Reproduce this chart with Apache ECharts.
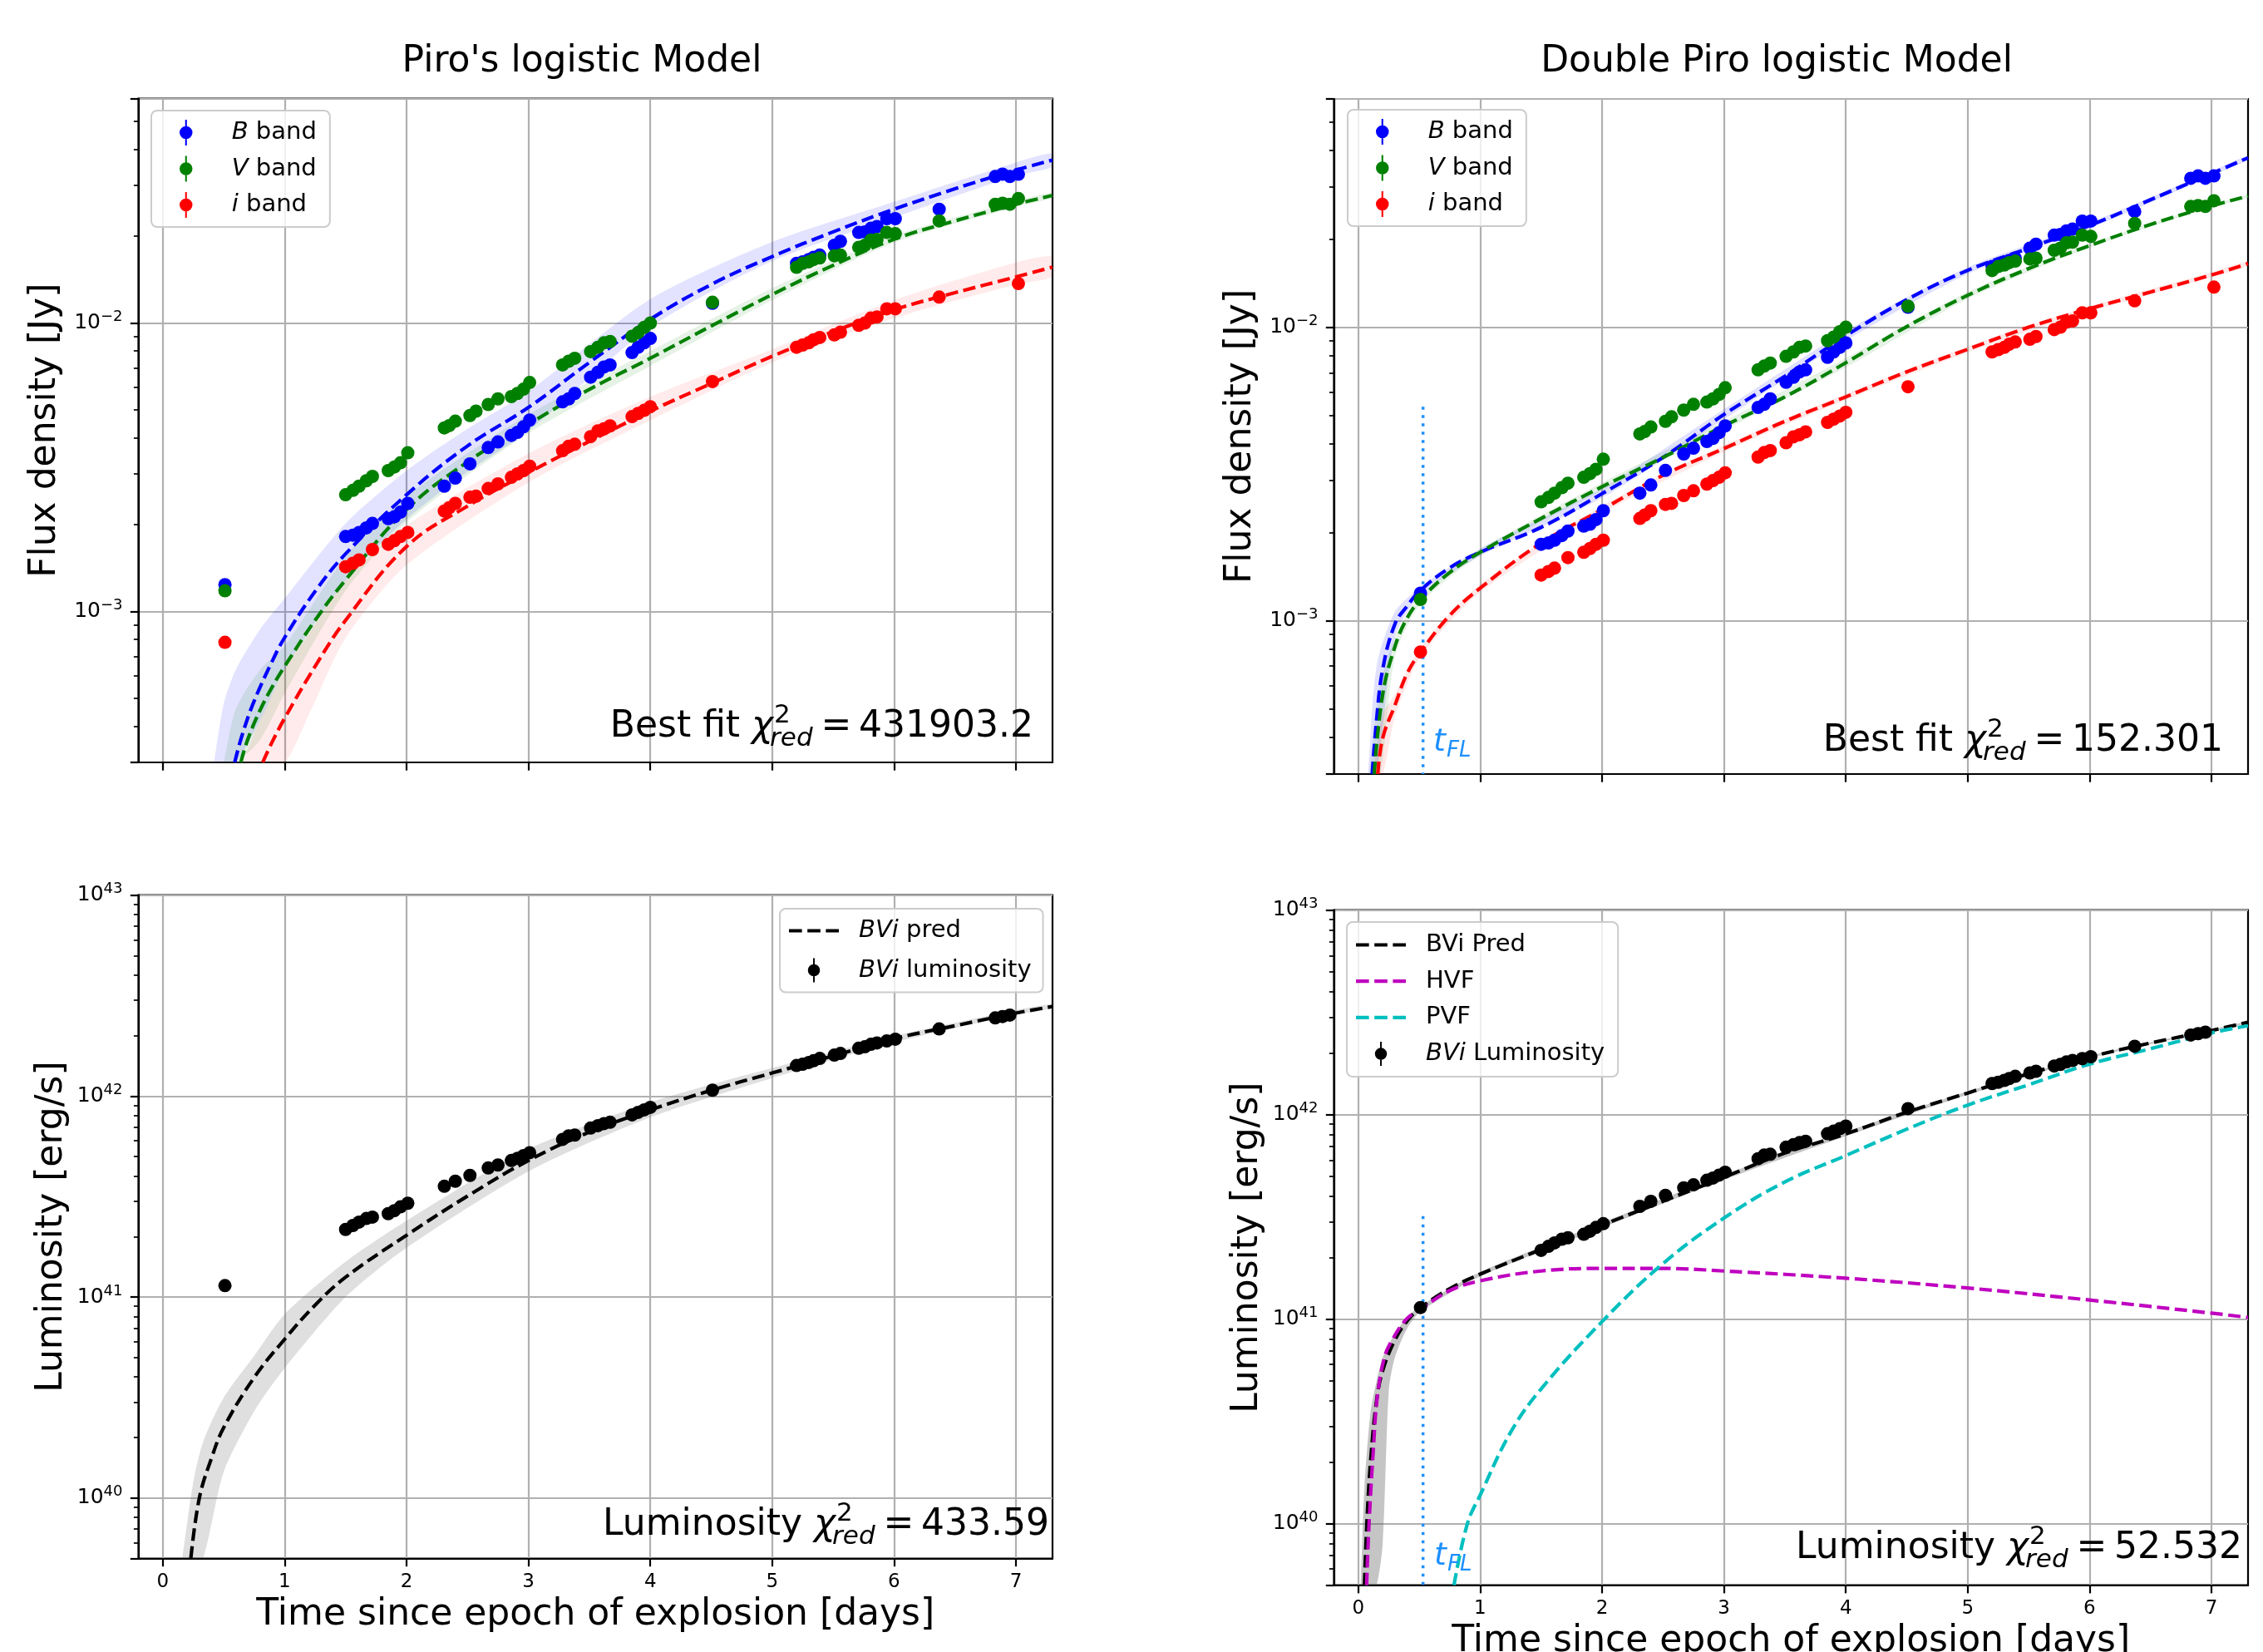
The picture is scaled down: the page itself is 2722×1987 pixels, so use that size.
<!DOCTYPE html>
<html><head><meta charset="utf-8">
<script src="https://cdn.jsdelivr.net/npm/echarts@6/dist/echarts.min.js"></script>
<style>html,body{margin:0;padding:0;background:#fff}#c{width:2722px;height:1987px}</style>
</head><body><div id="c"></div>
<script>
// ---------------- DATA ----------------
const xTickVals = [0, 1, 2, 3, 4, 5, 6, 7];
const fluxMinorTicks = [4e-4, 5e-4, 6e-4, 7e-4, 8e-4, 9e-4, 2e-3, 3e-3, 4e-3, 5e-3, 6e-3, 7e-3, 8e-3, 9e-3, 2e-2, 3e-2, 4e-2, 5e-2];
const lumMinorTicks = [6e39, 7e39, 8e39, 9e39, 2e40, 3e40, 4e40, 5e40, 6e40, 7e40, 8e40, 9e40, 2e41, 3e41, 4e41, 5e41, 6e41, 7e41, 8e41, 9e41, 2e42, 3e42, 4e42, 5e42, 6e42, 7e42, 8e42, 9e42];

// observation epochs (days since explosion)
const obsT = [0.51, 1.50, 1.56, 1.61, 1.67, 1.72, 1.85, 1.90, 1.95, 2.01, 2.31, 2.35, 2.40, 2.52, 2.57, 2.67, 2.75, 2.86, 2.91, 2.96, 3.01, 3.28, 3.33, 3.38, 3.51, 3.57, 3.62, 3.67, 3.85, 3.90, 3.95, 4.00, 4.51, 5.20, 5.25, 5.30, 5.34, 5.39, 5.51, 5.56, 5.71, 5.76, 5.81, 5.86, 5.94, 6.01, 6.37, 6.83, 6.89, 6.95, 7.02];
// flux densities [Jy]
const fluxB = [1.24e-3, 1.82e-3, 1.84e-3, 1.88e-3, 1.95e-3, 2.02e-3, 2.10e-3, 2.13e-3, 2.21e-3, 2.37e-3, 2.72e-3, null, 2.90e-3, 3.25e-3, null, 3.70e-3, 3.87e-3, 4.08e-3, 4.18e-3, 4.37e-3, 4.61e-3, 5.33e-3, 5.46e-3, 5.70e-3, 6.49e-3, 6.75e-3, 7.04e-3, 7.16e-3, 7.90e-3, 8.24e-3, 8.54e-3, 8.84e-3, 1.17e-2, 1.61e-2, 1.63e-2, 1.66e-2, 1.69e-2, 1.72e-2, 1.86e-2, 1.92e-2, 2.06e-2, 2.07e-2, 2.13e-2, 2.16e-2, 2.30e-2, 2.30e-2, 2.48e-2, 3.22e-2, 3.28e-2, 3.22e-2, 3.28e-2];
const fluxV = [1.18e-3, 2.54e-3, 2.63e-3, 2.72e-3, 2.84e-3, 2.94e-3, 3.08e-3, 3.17e-3, 3.28e-3, 3.55e-3, 4.33e-3, 4.41e-3, 4.57e-3, 4.78e-3, 4.95e-3, 5.22e-3, 5.46e-3, 5.56e-3, 5.70e-3, 5.90e-3, 6.22e-3, 7.16e-3, 7.37e-3, 7.55e-3, 7.96e-3, 8.24e-3, 8.54e-3, 8.63e-3, 9.0e-3, 9.26e-3, 9.66e-3, 1.0e-2, 1.18e-2, 1.56e-2, 1.61e-2, 1.63e-2, 1.66e-2, 1.68e-2, 1.71e-2, 1.72e-2, 1.83e-2, 1.86e-2, 1.94e-2, 1.95e-2, 2.06e-2, 2.04e-2, 2.26e-2, 2.58e-2, 2.60e-2, 2.58e-2, 2.70e-2];
const fluxI = [7.82e-4, 1.43e-3, 1.47e-3, 1.51e-3, null, 1.64e-3, 1.71e-3, 1.76e-3, 1.82e-3, 1.88e-3, 2.23e-3, 2.29e-3, 2.37e-3, 2.49e-3, 2.51e-3, 2.67e-3, 2.77e-3, 2.92e-3, 3.0e-3, 3.08e-3, 3.19e-3, 3.61e-3, 3.74e-3, 3.80e-3, 4.04e-3, 4.23e-3, 4.30e-3, 4.40e-3, 4.74e-3, 4.86e-3, 4.98e-3, 5.13e-3, 6.27e-3, 8.24e-3, 8.39e-3, 8.54e-3, 8.75e-3, 8.91e-3, 9.1e-3, 9.30e-3, 9.82e-3, 1.0e-2, 1.04e-2, 1.05e-2, 1.12e-2, 1.12e-2, 1.23e-2, null, null, null, 1.37e-2];
// BVi luminosity [erg/s]
const lumBVi = [1.14e41, 2.17e41, 2.27e41, 2.36e41, 2.46e41, 2.50e41, 2.60e41, 2.69e41, 2.81e41, 2.93e41, 3.56e41, null, 3.77e41, 4.03e41, null, 4.39e41, 4.54e41, 4.78e41, 4.9e41, 5.06e41, 5.23e41, 6.09e41, 6.34e41, 6.4e41, 6.93e41, 7.13e41, 7.3e41, 7.41e41, 8.07e41, 8.3e41, 8.54e41, 8.79e41, 1.07e42, 1.42e42, 1.44e42, 1.47e42, 1.50e42, 1.54e42, 1.60e42, 1.63e42, 1.73e42, 1.76e42, 1.81e42, 1.84e42, 1.88e42, 1.92e42, 2.16e42, 2.45e42, 2.49e42, 2.53e42, null];

// Piro logistic model: best fit curves [t, flux]
const piroB = [[0.59,3.0e-4],[0.65,3.72e-4],[0.75,4.9e-4],[0.9,6.76e-4],[1.0,8.13e-4],[1.25,1.175e-3],[1.5,1.585e-3],[2.0,2.54e-3],[2.5,3.75e-3],[3.0,5.1e-3],[3.5,7.3e-3],[4.0,1.03e-2],[4.5,1.36e-2],[5.0,1.70e-2],[5.5,2.07e-2],[6.0,2.48e-2],[6.5,2.92e-2],[7.0,3.39e-2],[7.3,3.67e-2]];
const piroV = [[0.64,3.0e-4],[0.7,3.63e-4],[0.8,4.57e-4],[0.9,5.5e-4],[1.0,6.46e-4],[1.25,9.33e-4],[1.5,1.288e-3],[2.0,2.26e-3],[2.5,3.30e-3],[3.0,4.46e-3],[3.5,5.89e-3],[4.0,7.55e-3],[4.5,9.77e-3],[5.0,1.256e-2],[5.5,1.585e-2],[6.0,1.95e-2],[6.5,2.26e-2],[7.0,2.58e-2],[7.3,2.77e-2]];
const piroI = [[0.82,3.0e-4],[0.9,3.55e-4],[1.0,4.27e-4],[1.25,6.46e-4],[1.5,9.33e-4],[2.0,1.68e-3],[2.5,2.32e-3],[3.0,3.03e-3],[3.5,3.89e-3],[4.0,4.95e-3],[4.5,6.17e-3],[5.0,7.67e-3],[5.5,9.33e-3],[6.0,1.112e-2],[6.5,1.274e-2],[7.0,1.445e-2],[7.3,1.563e-2]];
// posterior spread [t, low, high]
const piroBandB = [[0.42,3e-4,3e-4],[0.5,3e-4,4.8e-4],[0.6,3e-4,6.3e-4],[0.8,4.2e-4,8.7e-4],[1.0,6.3e-4,1.11e-3],[1.5,1.28e-3,2.02e-3],[2.0,2.09e-3,3.08e-3],[2.5,3.05e-3,4.3e-3],[3.0,4.23e-3,5.79e-3],[4.0,9.66e-3,1.21e-2],[5.0,1.64e-2,1.91e-2],[6.0,2.32e-2,2.63e-2],[7.0,3.24e-2,3.6e-2],[7.3,3.48e-2,3.87e-2]];
const piroBandV = [[0.5,3e-4,3e-4],[0.6,3e-4,4.6e-4],[0.8,3.6e-4,6.3e-4],[1.0,5.2e-4,7.6e-4],[1.5,1.18e-3,1.55e-3],[2.0,2.04e-3,2.51e-3],[3.0,4.15e-3,4.82e-3],[4.0,7.1e-3,8.0e-3],[5.0,1.2e-2,1.32e-2],[6.0,1.9e-2,2.01e-2],[7.0,2.53e-2,2.65e-2],[7.3,2.71e-2,2.83e-2]];
const piroBandI = [[0.65,3e-4,3e-4],[0.8,3e-4,4.2e-4],[1.0,3e-4,6.3e-4],[1.2,4.4e-4,8.4e-4],[1.5,8.1e-4,1.28e-3],[2.0,1.45e-3,1.99e-3],[3.0,2.8e-3,3.53e-3],[4.0,4.6e-3,5.55e-3],[5.0,7.3e-3,8.1e-3],[6.0,1.04e-2,1.2e-2],[7.0,1.36e-2,1.62e-2],[7.3,1.45e-2,1.7e-2]];

// Double Piro logistic model
const dpB = [[0.114,3.0e-4],[0.15,4.6e-4],[0.2,6.82e-4],[0.3,9.73e-4],[0.4,1.12e-3],[0.51,1.268e-3],[0.75,1.514e-3],[1.0,1.71e-3],[1.5,2.08e-3],[2.0,2.71e-3],[2.5,3.60e-3],[3.0,5.04e-3],[3.5,6.81e-3],[4.0,9.35e-3],[4.5,1.242e-2],[5.0,1.563e-2],[5.5,1.86e-2],[6.0,2.22e-2],[6.5,2.72e-2],[7.0,3.34e-2],[7.3,3.78e-2]];
const dpV = [[0.13,3.0e-4],[0.2,5.6e-4],[0.3,8.15e-4],[0.4,1.02e-3],[0.51,1.18e-3],[0.75,1.459e-3],[1.0,1.71e-3],[1.5,2.23e-3],[2.0,2.86e-3],[2.5,3.60e-3],[3.0,4.61e-3],[3.5,5.79e-3],[4.0,7.57e-3],[4.5,1.005e-2],[5.0,1.285e-2],[5.5,1.585e-2],[6.0,1.897e-2],[6.5,2.24e-2],[7.0,2.59e-2],[7.3,2.80e-2]];
const dpI = [[0.16,3.0e-4],[0.2,3.98e-4],[0.3,5.14e-4],[0.4,6.6e-4],[0.51,7.8e-4],[0.75,1.042e-3],[1.0,1.291e-3],[1.5,1.837e-3],[2.0,2.39e-3],[2.5,3.13e-3],[3.0,3.86e-3],[3.5,4.78e-3],[4.0,5.79e-3],[4.5,7.05e-3],[5.0,8.41e-3],[5.5,1.0e-2],[6.0,1.156e-2],[6.5,1.318e-2],[7.0,1.507e-2],[7.3,1.648e-2]];
const dpBandB = [[0.08,3e-4,3e-4],[0.15,3e-4,7e-4],[0.3,8.8e-4,1.07e-3],[0.51,1.22e-3,1.3e-3],[1.0,1.66e-3,1.76e-3],[2.0,2.62e-3,2.82e-3],[3.0,4.85e-3,5.25e-3],[4.0,9.0e-3,9.7e-3],[5.0,1.52e-2,1.6e-2],[6.0,2.17e-2,2.27e-2],[7.0,3.28e-2,3.4e-2],[7.3,3.72e-2,3.85e-2]];
const dpBandV = [[0.09,3e-4,3e-4],[0.18,3e-4,6e-4],[0.3,7.5e-4,8.8e-4],[0.51,1.14e-3,1.22e-3],[1.0,1.67e-3,1.75e-3],[2.0,2.78e-3,2.95e-3],[3.0,4.45e-3,4.78e-3],[4.0,7.3e-3,7.85e-3],[5.0,1.25e-2,1.32e-2],[6.0,1.87e-2,1.93e-2],[7.0,2.56e-2,2.62e-2],[7.3,2.77e-2,2.83e-2]];
const dpBandI = [[0.12,3e-4,3e-4],[0.2,3e-4,4.8e-4],[0.3,4.7e-4,5.6e-4],[0.51,7.5e-4,8.1e-4],[1.0,1.25e-3,1.33e-3],[2.0,2.32e-3,2.46e-3],[3.0,3.76e-3,3.96e-3],[4.0,5.65e-3,5.93e-3],[5.0,8.2e-3,8.6e-3],[6.0,1.13e-2,1.18e-2],[7.0,1.48e-2,1.54e-2],[7.3,1.62e-2,1.68e-2]];

// luminosity models
const lumPiro = [[0.23,5.0e39],[0.3,1.0e40],[0.4,1.58e40],[0.5,2.24e40],[0.75,3.98e40],[1.0,6.17e40],[1.25,9.12e40],[1.5,1.256e41],[2.0,2.03e41],[2.5,3.18e41],[3.0,4.78e41],[3.5,6.62e41],[4.0,8.53e41],[4.5,1.069e42],[5.0,1.303e42],[5.5,1.585e42],[6.0,1.93e42],[6.5,2.24e42],[7.0,2.59e42],[7.3,2.79e42]];
const lumPiroBand = [[0.16,5e39,5e39],[0.25,5e39,1.2e40],[0.33,5e39,1.9e40],[0.5,1.35e40,3.16e40],[0.75,2.7e40,5.1e40],[1.0,4.43e40,8.22e40],[1.5,1.0e41,1.5e41],[2.0,1.76e41,2.4e41],[3.0,4.22e41,5.45e41],[4.0,7.85e41,9.3e41],[5.0,1.23e42,1.38e42],[6.0,1.85e42,1.99e42],[7.0,2.54e42,2.68e42],[7.3,2.74e42,2.87e42]];
const lumDP = [[0.05,5e39],[0.07,1.0e40],[0.1,2.0e40],[0.15,4.0e40],[0.2,5.6e40],[0.3,7.9e40],[0.4,9.8e40],[0.51,1.135e41],[0.75,1.41e41],[1.0,1.66e41],[1.5,2.19e41],[2.0,2.88e41],[2.5,3.77e41],[3.0,4.94e41],[3.5,6.49e41],[4.0,8.05e41],[4.5,1.028e42],[5.0,1.276e42],[5.5,1.585e42],[6.0,1.914e42],[6.5,2.24e42],[7.0,2.58e42],[7.3,2.83e42]];
const lumDPBand = [[0.02,5e39,5e39],[0.05,5e39,1.5e40],[0.1,5e39,3.5e40],[0.15,5e39,5.0e40],[0.2,8e39,6.5e40],[0.25,4.5e40,7.5e40],[0.3,6.5e40,8.5e40],[0.4,9.0e40,1.02e41],[0.51,1.09e41,1.16e41],[1.0,1.62e41,1.7e41],[2.0,2.8e41,2.96e41],[3.0,4.8e41,5.08e41],[4.0,7.85e41,8.25e41],[5.0,1.25e42,1.3e42],[6.0,1.89e42,1.94e42],[7.0,2.56e42,2.61e42],[7.3,2.8e42,2.86e42]];
const lumHVF = [[0.068,5e39],[0.088,1.0e40],[0.122,2.24e40],[0.156,4.17e40],[0.213,6.46e40],[0.27,7.76e40],[0.395,1.0e41],[0.513,1.12e41],[0.75,1.38e41],[1.0,1.54e41],[1.5,1.72e41],[2.0,1.77e41],[2.5,1.77e41],[3.0,1.72e41],[4.0,1.585e41],[5.0,1.42e41],[6.0,1.24e41],[7.0,1.07e41],[7.3,1.02e41]];
const lumPVF = [[0.785,5e39],[0.895,1.0e40],[1.0,1.38e40],[1.25,2.8e40],[1.5,4.56e40],[2.0,9.73e40],[2.5,1.87e41],[3.0,3.12e41],[3.5,4.69e41],[4.0,6.31e41],[4.5,8.49e41],[5.0,1.114e42],[5.5,1.4e42],[6.0,1.766e42],[6.5,2.1e42],[7.0,2.51e42],[7.3,2.72e42]];

// first-light epoch marker
const tflFlux = [[0.531, 5.36e-3], [0.531, 3e-4]];
const tflLum = [[0.531, 3.19e41], [0.531, 5e39]];

const chiTexts = ['431903.2', '152.301', '433.59', '52.532'];
const titles = ["Piro's logistic Model", 'Double Piro logistic Model'];

// ---------------- RENDER ----------------
const FONT = '"DejaVu Sans", sans-serif';
const C = {B:'#0000ff', V:'#008000', I:'#ff0000', K:'#000000', M:'#bf00bf', Cy:'#00bfbf', FL:'#1e90ff'};
const DASH = [15, 6.5];
const chart = echarts.init(document.getElementById('c'), null, {renderer:'canvas'});

const gridRects = [
  {left:166.5, top:118.5, width:1099.5, height:798.5},
  {left:1604.5, top:119, width:1099.5, height:812},
  {left:166.5, top:1076.7, width:1099.5, height:797.8},
  {left:1604.5, top:1094.7, width:1099.5, height:812}
];
const grid = gridRects.map(r => Object.assign({show:true, borderColor:'#000', borderWidth:2.2, backgroundColor:'transparent', containLabel:false, outerBoundsMode:'none'}, r));

function xAx(gi, showLabels, name, gap) {
  return {type:'value', gridIndex:gi, min:-0.2, max:7.3,
    axisLine:{show:true, onZero:false, lineStyle:{color:'#000', width:2.2}},
    axisTick:{show:true, inside:false, length:9.7, customValues:xTickVals, lineStyle:{color:'#000', width:2.2}},
    axisLabel:{show:showLabels, customValues:xTickVals, margin:17, fontSize:23, fontFamily:FONT, color:'#000'},
    splitLine:{show:true, lineStyle:{color:'#b0b0b0', width:2.2}},
    name: name || '', nameLocation:'middle', nameGap:gap || 0,
    nameTextStyle:{fontSize:44, fontFamily:FONT, color:'#000'}};
}
function powFmt(v) {
  const l = Math.log10(v), e = Math.round(l);
  if (Math.abs(l - e) > 1e-6) return '';
  return '{b|10}{s|' + (e < 0 ? '\u2212' + (-e) : e) + '}';
}
function yMain(gi, min, max, name, gap) {
  return {type:'log', logBase:10, gridIndex:gi, min, max, position:'left',
    axisLine:{show:true, onZero:false, lineStyle:{color:'#000', width:2.2}},
    axisTick:{show:true, length:9.7, lineStyle:{color:'#000', width:2.2}},
    axisLabel:{show:true, margin:19, formatter:powFmt, color:'#000', fontSize:25, fontFamily:FONT,
      rich:{b:{fontSize:25, fontFamily:FONT, lineHeight:32, color:'#000'},
            s:{fontSize:18, fontFamily:FONT, lineHeight:18, verticalAlign:'top', color:'#000'}}},
    splitLine:{show:true, lineStyle:{color:'#b0b0b0', width:2.2}},
    minorTick:{show:false}, minorSplitLine:{show:false},
    name, nameLocation:'middle', nameRotate:90, nameGap:gap,
    nameTextStyle:{fontSize:44, fontFamily:FONT, color:'#000'}};
}
function yMinor(gi, min, max, vals) {
  return {type:'value', gridIndex:gi, min:Math.log10(min), max:Math.log10(max), position:'left',
    axisLine:{show:false, onZero:false}, axisLabel:{show:false}, splitLine:{show:false},
    axisTick:{show:true, length:5.6, customValues:vals.map(v => Math.log10(v)), lineStyle:{color:'#000', width:1.7}}};
}

const xAxis = [xAx(0, false), xAx(1, false), xAx(2, true, 'Time since epoch of explosion [days]', 46.5), xAx(3, true, 'Time since epoch of explosion [days]', 46.3)];
const yAxis = [
  yMain(0, 3e-4, 6e-2, 'Flux density [Jy]', 89.5), yMinor(0, 3e-4, 6e-2, fluxMinorTicks),
  yMain(1, 3e-4, 6e-2, 'Flux density [Jy]', 89.5), yMinor(1, 3e-4, 6e-2, fluxMinorTicks),
  yMain(2, 5e39, 1e43, 'Luminosity [erg/s]', 81.5), yMinor(2, 5e39, 1e43, lumMinorTicks),
  yMain(3, 5e39, 1e43, 'Luminosity [erg/s]', 81.5), yMinor(3, 5e39, 1e43, lumMinorTicks)
];

function band(rows, g, fill) {
  return {type:'custom', name:'_band', xAxisIndex:g, yAxisIndex:2*g, silent:true, z:1,
    data:[[rows[0][0], rows[0][2]]],
    renderItem:(params, api) => {
      const pts = [];
      rows.forEach(r => pts.push(api.coord([r[0], r[2]])));
      for (let k = rows.length - 1; k >= 0; k--) pts.push(api.coord([rows[k][0], rows[k][1]]));
      const cs = params.coordSys;
      return {type:'polygon', shape:{points:pts, smooth:0.25}, style:{fill:fill},
        clipPath:{type:'rect', shape:{x:cs.x, y:cs.y, width:cs.width, height:cs.height}}};
    }};
}
function curve(name, data, g, color, dash, width, smooth) {
  return {type:'line', name, xAxisIndex:g, yAxisIndex:2*g, data, symbol:'none', showSymbol:false,
    smooth: smooth === undefined ? 0.4 : smooth, clip:true, z:2, silent:true,
    lineStyle:{color, width:width || 4.2, type:dash || DASH}, itemStyle:{color}};
}
function points(name, vals, g, color) {
  const d = [];
  obsT.forEach((t, i) => { if (vals[i] != null) d.push([t, vals[i]]); });
  return {type:'scatter', name, xAxisIndex:g, yAxisIndex:2*g, data:d, symbol:'circle', symbolSize:16,
    itemStyle:{color, opacity:1}, z:3, silent:true, clip:true};
}

const series = [
  band(piroBandB, 0, 'rgba(0,0,255,0.11)'), band(piroBandV, 0, 'rgba(0,128,0,0.10)'), band(piroBandI, 0, 'rgba(255,0,0,0.08)'),
  curve('B model', piroB, 0, C.B), curve('V model', piroV, 0, C.V), curve('i model', piroI, 0, C.I),
  points('B band', fluxB, 0, C.B), points('V band', fluxV, 0, C.V), points('i band', fluxI, 0, C.I),

  band(dpBandB, 1, 'rgba(0,0,255,0.12)'), band(dpBandV, 1, 'rgba(0,128,0,0.10)'), band(dpBandI, 1, 'rgba(255,0,0,0.09)'),
  curve('B model 2', dpB, 1, C.B), curve('V model 2', dpV, 1, C.V), curve('i model 2', dpI, 1, C.I),
  curve('tFL flux', tflFlux, 1, C.FL, [3.5, 6.5], 3.5, false),
  points('B band', fluxB, 1, C.B), points('V band', fluxV, 1, C.V), points('i band', fluxI, 1, C.I),

  band(lumPiroBand, 2, 'rgba(110,110,110,0.22)'),
  curve('BVi pred', lumPiro, 2, C.K),
  points('BVi luminosity', lumBVi, 2, C.K),

  band(lumDPBand, 3, 'rgba(90,90,90,0.35)'),
  curve('BVi Pred', lumDP, 3, C.K),
  curve('HVF', lumHVF, 3, C.M),
  curve('PVF', lumPVF, 3, C.Cy),
  curve('tFL lum', tflLum, 3, C.FL, [3.5, 6.5], 3.5, false),
  points('BVi Luminosity', lumBVi, 3, C.K)
];

const ERR_ICON = 'path://M6.5,0h2v30h-2z M0,15a7.5,7.5 0 1,1 15,0a7.5,7.5 0 1,1 -15,0z';
const DASH_ICON = 'path://M0,0h15.5v4.2h-15.5z M22,0h15.5v4.2h-15.5z M44,0h15.5v4.2h-15.5z';
function legendBase(left, top, iw, ih, gap, spacer, pad, items, fmt) {
  return {show:true, orient:'vertical', left, top, itemWidth:iw, itemHeight:ih, itemGap:gap,
    padding:pad, backgroundColor:'rgba(255,255,255,0.8)', borderColor:'#cccccc', borderWidth:2, borderRadius:7,
    selectedMode:false, data:items,
    formatter:fmt,
    textStyle:{fontSize:29, fontFamily:FONT, color:'#000', lineHeight:29,
      rich:{sp:{width:spacer, fontSize:29, lineHeight:29}, it:{fontStyle:'italic', fontSize:29, fontFamily:FONT, lineHeight:29, color:'#000'}}}};
}
const bandFmt = n => '{sp| }{it|' + n.charAt(0) + '}' + n.slice(1);
const legend = [
  legendBase(182, 133, 40, 31, 12.5, 30, [11, 16, 11, 34], [{name:'B band', icon:ERR_ICON}, {name:'V band', icon:ERR_ICON}, {name:'i band', icon:ERR_ICON}], bandFmt),
  legendBase(1621, 132, 40, 31, 12.5, 30, [11, 16, 11, 34], [{name:'B band', icon:ERR_ICON}, {name:'V band', icon:ERR_ICON}, {name:'i band', icon:ERR_ICON}], bandFmt),
  legendBase(938, 1093, 60, 29, 18.5, 19, [12, 14, 12, 11], [{name:'BVi pred', icon:DASH_ICON}, {name:'BVi luminosity', icon:ERR_ICON}],
    n => n === 'BVi pred' ? '{sp| }{it|BVi} pred' : '{sp| }{it|BVi} luminosity'),
  legendBase(1620, 1109, 60, 29, 14.7, 19, [13, 16, 13, 11], [{name:'BVi Pred', icon:DASH_ICON}, {name:'HVF', icon:DASH_ICON}, {name:'PVF', icon:DASH_ICON}, {name:'BVi Luminosity', icon:ERR_ICON}],
    n => n === 'BVi Luminosity' ? '{sp| }{it|BVi} Luminosity' : '{sp| }' + n)
];

// text helpers (measure to compose mathtext-like labels)
const mctx = document.createElement('canvas').getContext('2d');
function tw(str, size, italic) { mctx.font = (italic ? 'italic ' : '') + size + 'px "DejaVu Sans"'; return mctx.measureText(str).width; }
function gtext(str, x, yb, size, italic, align, color) {
  return {type:'text', x:x, y:yb - 0.346 * size, silent:true, z:100,
    style:{text:str, fontSize:size, fontFamily:'DejaVu Sans', fontStyle:italic ? 'italic' : 'normal', fill:color || '#000',
      align:align, textAlign:align, verticalAlign:'middle', textVerticalAlign:'middle'}};
}
function chiLabel(prefix, value, xr, yb) {
  const S = 44, s = 31;
  const eq = '\u2009=\u2009' + value;
  const eqL = xr - tw(eq, S, false);
  const redL = eqL - tw('red', s, true) - 1;
  const chiL = redL - tw('\u03c7', S, true) + 4;
  return [
    gtext(prefix, chiL, yb, S, false, 'right'),
    gtext('\u03c7', chiL, yb, S, true, 'left'),
    gtext('2', redL + 5, yb - 18, s, false, 'left'),
    gtext('red', redL, yb + 10, s, true, 'left'),
    gtext(eq, xr, yb, S, false, 'right')
  ];
}
const graphic = [
  gtext(titles[0], 700, 90, 44, false, 'center'),
  gtext(titles[1], 2137, 90, 44, false, 'center'),
  ...chiLabel('Best fit ', chiTexts[0], 1243, 890),
  ...chiLabel('Best fit ', chiTexts[1], 2674, 906.5),
  ...chiLabel('Luminosity ', chiTexts[2], 1262, 1850),
  ...chiLabel('Luminosity ', chiTexts[3], 2697, 1878),
  gtext('t', 1724, 906, 38, true, 'left', C.FL),
  gtext('FL', 1740, 912, 26, true, 'left', C.FL),
  gtext('t', 1725, 1885, 38, true, 'left', C.FL),
  gtext('FL', 1741, 1891, 26, true, 'left', C.FL)
];

chart.setOption({
  animation:false, backgroundColor:'#ffffff',
  textStyle:{fontFamily:FONT},
  grid, xAxis, yAxis, series, legend, graphic:{elements:graphic}
});
</script></body></html>
